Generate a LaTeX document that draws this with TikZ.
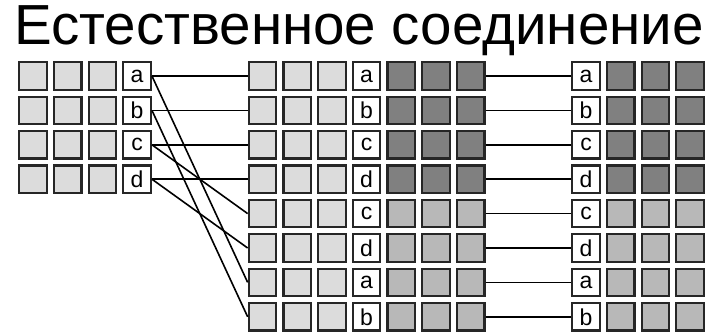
\documentclass[tikz,border=0pt]{standalone}
\usepackage{fontspec}
\setmainfont{Liberation Sans}
\usetikzlibrary{positioning}

\definecolor{lightcell}{HTML}{DCDCDC}
\definecolor{darkcell}{HTML}{808080}
\definecolor{midcell}{HTML}{B8B8B8}

\begin{document}
\begin{tikzpicture}[
    x=1pt, y=-1pt,
    cell/.style={rectangle, draw=black!85, line width=2.2pt, fill=#1, minimum size=27.5pt, inner sep=0pt, font=\fontsize{23}{23}\selectfont},
    cell/.default={lightcell},
    link/.style={draw=black, line width=1.6pt},
]
    \useasboundingbox (0,0) rectangle (719,334);

    % Title
    \node[anchor=base west, inner sep=0pt, font=\fontsize{56.5}{60}\selectfont] (title) at (14,45) {Естественное соединение};

    % Left table
    \foreach \l [count=\r] in {a,b,c,d} {
        \foreach \c in {1,2,3}
            \node[cell] (L\r-\c) at ({33+34.7*(\c-1)}, {76+34.4*(\r-1)}) {};
        \node[cell=white] (L\r) at (137.1, {76+34.4*(\r-1)}) {\l};
    }

    % Middle table
    \foreach \l/\tone [count=\r] in {a/darkcell, b/darkcell, c/darkcell, d/darkcell, c/midcell, d/midcell, a/midcell, b/midcell} {
        \foreach \c in {1,2,3}
            \node[cell] (M\r-\c) at ({262.5+34.7*(\c-1)}, {76+34.4*(\r-1)}) {};
        \node[cell=white] (M\r) at (366.6, {76+34.4*(\r-1)}) {\l};
        \foreach \c in {5,6,7}
            \node[cell=\tone] (M\r-\c) at ({262.5+34.7*(\c-1)}, {76+34.4*(\r-1)}) {};
    }

    % Right table
    \foreach \l/\tone [count=\r] in {a/darkcell, b/darkcell, c/darkcell, d/darkcell, c/midcell, d/midcell, a/midcell, b/midcell} {
        \node[cell=white] (R\r) at (586, {76+34.4*(\r-1)}) {\l};
        \foreach \c in {1,2,3}
            \node[cell=\tone] (R\r-\c) at ({586+34.7*\c}, {76+34.4*(\r-1)}) {};
    }

    % Links left -> middle
    \foreach \r in {1,...,4}
        \draw[link] (L\r.east) -- (M\r-1.west);
    \draw[link] (L1.east) -- (M7-1.west);
    \draw[link] (L2.east) -- (M8-1.west);
    \draw[link] (L3.east) -- (M5-1.west);
    \draw[link] (L4.east) -- (M6-1.west);

    % Links middle -> right
    \foreach \r in {1,...,8}
        \draw[link] (M\r-7.east) -- (R\r.west);
\end{tikzpicture}
\end{document}
